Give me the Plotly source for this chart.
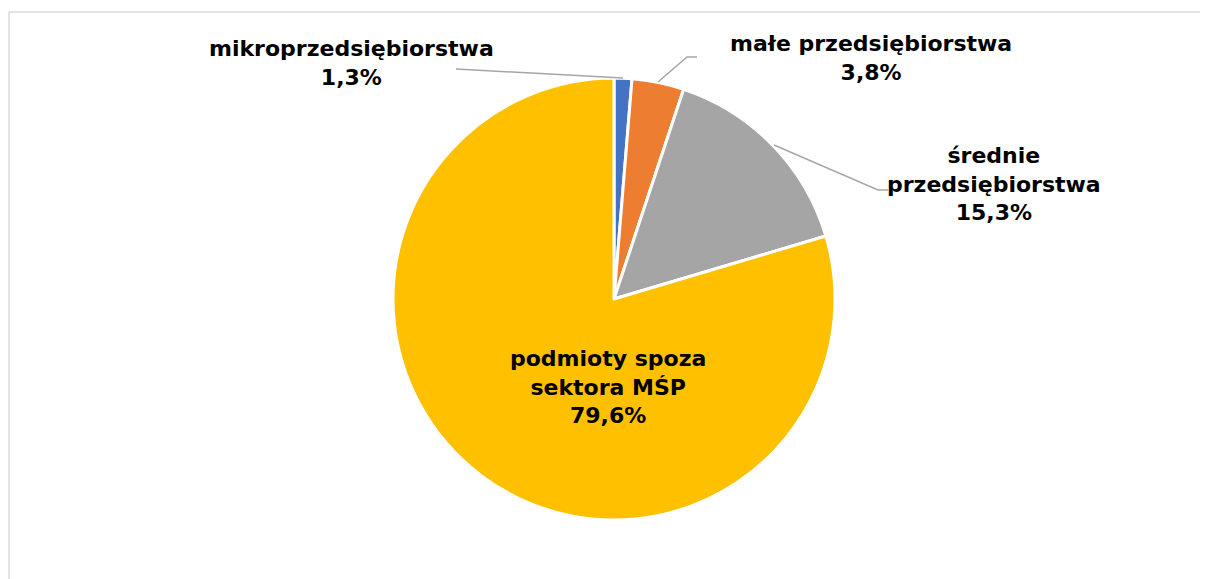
import plotly.graph_objects as go

categories = ["mikroprzedsiębiorstwa", "małe przedsiębiorstwa", "średnie<br>przedsiębiorstwa", "podmioty spoza<br>sektora MŚP"]
values = [1.3, 3.8, 15.3, 79.6]
colors = ["#4472C4", "#ED7D31", "#A5A5A5", "#FFC000"]

# page body has an 8px margin; size the figure so it fills the window
OFF = 8
W, H = 1208 - OFF, 579 - OFF

def px(x):
    return (x - OFF) / W

def py(y):
    return 1 - (y - OFF) / H

fig = go.Figure()
fig.add_trace(go.Pie(
    labels=categories,
    values=values,
    sort=False,
    direction="clockwise",
    rotation=0,
    marker=dict(colors=colors, line=dict(color="white", width=3)),
    textinfo="none",
    hoverinfo="skip",
    showlegend=False,
    domain=dict(x=[px(393), px(835)], y=[py(520), py(78)]),
))

label_pos = [(351, 63), (871, 58), (994, 184), (608, 387)]
font = dict(family="DejaVu Sans", size=22, color="black")
annotations = []
for cat, val, (x, y) in zip(categories, values, label_pos):
    txt = "<b>%s<br>%s%%</b>" % (cat, ("%.1f" % val).replace(".", ","))
    annotations.append(dict(
        x=px(x), y=py(y), xref="paper", yref="paper",
        text=txt, showarrow=False, font=font,
        xanchor="center", yanchor="middle", align="center",
    ))

def path(points):
    return "M " + " L ".join("%f,%f" % (px(a), py(b)) for a, b in points)

line = dict(color="#A6A6A6", width=1.5)
border = dict(color="#D9D9D9", width=1.5)
shapes = [
    dict(type="line", xref="paper", yref="paper", x0=px(9), y0=py(12), x1=px(1208), y1=py(12), line=border, layer="below"),
    dict(type="line", xref="paper", yref="paper", x0=px(9), y0=py(12), x1=px(9), y1=py(579), line=border, layer="below"),
    dict(type="path", xref="paper", yref="paper", path=path([(456, 69), (623, 78)]), line=line),
    dict(type="path", xref="paper", yref="paper", path=path([(658, 82), (687, 57), (697, 57)]), line=line),
    dict(type="path", xref="paper", yref="paper", path=path([(774, 145), (878, 190), (888, 190)]), line=line),
]

fig.update_layout(
    width=W, height=H,
    margin=dict(l=0, r=0, t=0, b=0),
    paper_bgcolor="white",
    plot_bgcolor="white",
    annotations=annotations,
    shapes=shapes,
)

fig.write_html("out.html")
